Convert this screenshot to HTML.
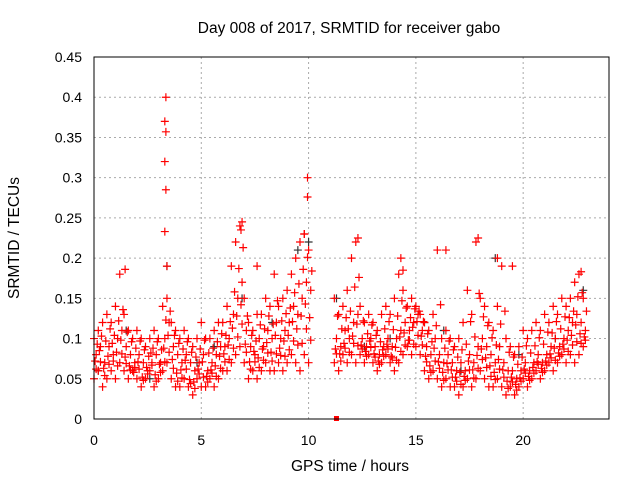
<!DOCTYPE html>
<html><head><meta charset="utf-8"><style>
body{margin:0;background:#fff}
svg{display:block;font-family:"Liberation Sans",sans-serif}
</style></head><body>
<svg id="c" width="640" height="480">
<text x="349" y="33" text-anchor="middle" font-size="15.5">Day 008 of 2017, SRMTID for receiver gabo</text>
<text x="350" y="471" text-anchor="middle" font-size="15.5">GPS time / hours</text>
<text transform="translate(19,238) rotate(-90)" text-anchor="middle" font-size="15.5">SRMTID / TECUs</text>
<g id="grid"></g><g id="marks"></g>
<rect x="94" y="57" width="515" height="362" fill="none" stroke="#000"/>
<g id="ticks"></g>
</svg>
<script>
const xTicks=[0,5,10,15,20];
const yTicks=[0,0.05,0.1,0.15,0.2,0.25,0.3,0.35,0.4,0.45];
const yTickLabels=["0","0.05","0.1","0.15","0.2","0.25","0.3","0.35","0.4","0.45"];
const times=[0,0.2,0.4,0.6,0.8,1,1.2,1.4,1.6,1.8,2,2.2,2.4,2.6,2.8,3,3.2,3.4,3.6,3.8,4,4.2,4.4,4.6,4.8,5,5.2,5.4,5.6,5.8,6,6.2,6.4,6.6,6.8,7,7.2,7.4,7.6,7.8,8,8.2,8.4,8.6,8.8,9,9.2,9.4,9.6,9.8,10,
11.2,11.4,11.6,11.8,12,12.2,12.4,12.6,12.8,13,13.2,13.4,13.6,13.8,14,14.2,14.4,14.6,14.8,15,15.2,15.4,15.6,15.8,16,16.2,16.4,16.6,16.8,17,17.2,17.4,17.6,17.8,18,18.2,18.4,18.6,18.8,19,19.2,19.4,19.6,19.8,20,20.2,20.4,20.6,20.8,21,21.2,21.4,21.6,21.8,22,22.2,22.4,22.6,22.8];
const lowVals=[0.05,0.06,0.04,0.05,0.06,0.05,0.07,0.06,0.05,0.06,0.05,0.04,0.05,0.06,0.04,0.05,0.06,0.07,0.05,0.04,0.04,0.05,0.04,0.03,0.05,0.04,0.04,0.05,0.04,0.05,0.06,0.06,0.07,0.08,0.09,0.07,0.05,0.06,0.05,0.06,0.07,0.06,0.06,0.07,0.06,0.07,0.08,0.07,0.06,0.08,0.07,
0.07,0.06,0.08,0.07,0.08,0.07,0.08,0.07,0.08,0.07,0.06,0.07,0.08,0.07,0.06,0.07,0.08,0.09,0.08,0.09,0.08,0.06,0.05,0.06,0.05,0.04,0.05,0.04,0.04,0.03,0.04,0.05,0.04,0.05,0.06,0.05,0.04,0.04,0.05,0.04,0.03,0.04,0.03,0.04,0.05,0.04,0.05,0.06,0.05,0.06,0.07,0.06,0.07,0.08,0.07,0.08,0.07,0.08,0.09];
const midVals=[0.08,0.09,0.07,0.09,0.08,0.10,0.11,0.09,0.08,0.07,0.08,0.07,0.06,0.07,0.08,0.07,0.10,0.12,0.09,0.08,0.07,0.08,0.07,0.06,0.07,0.08,0.06,0.07,0.08,0.09,0.09,0.10,0.13,0.15,0.17,0.11,0.09,0.08,0.10,0.09,0.11,0.10,0.12,0.10,0.11,0.12,0.14,0.13,0.15,0.17,0.16,
0.10,0.09,0.11,0.10,0.12,0.13,0.10,0.09,0.10,0.09,0.08,0.09,0.10,0.09,0.10,0.11,0.12,0.11,0.12,0.13,0.11,0.09,0.08,0.10,0.08,0.07,0.08,0.07,0.06,0.07,0.06,0.08,0.07,0.09,0.10,0.09,0.08,0.07,0.09,0.07,0.06,0.06,0.05,0.06,0.07,0.06,0.07,0.08,0.07,0.08,0.09,0.10,0.09,0.10,0.11,0.12,0.13,0.12,0.11];
const highVals=[0.10,0.11,0.12,0.13,0.12,0.14,0.18,0.13,0.11,0.10,0.11,0.10,0.09,0.10,0.11,0.10,0.14,0.15,0.12,0.11,0.10,0.11,0.10,0.09,0.10,0.12,0.10,0.10,0.11,0.12,0.12,0.14,0.19,0.22,0.24,0.15,0.12,0.11,0.13,0.13,0.15,0.14,0.18,0.14,0.15,0.16,0.18,0.20,0.22,0.23,0.21,
0.15,0.13,0.14,0.16,0.20,0.22,0.14,0.12,0.13,0.12,0.11,0.13,0.14,0.13,0.15,0.18,0.16,0.14,0.15,0.14,0.13,0.12,0.11,0.13,0.21,0.10,0.11,0.10,0.09,0.10,0.12,0.16,0.13,0.22,0.15,0.14,0.12,0.11,0.14,0.19,0.10,0.09,0.08,0.09,0.11,0.10,0.11,0.12,0.11,0.13,0.12,0.14,0.13,0.15,0.14,0.15,0.17,0.18,0.15];
const extraA=[0.072,0.085,0.063,0.078,0.094,0.083,0.098,0.077,0.066,0.058,0.071,0.052,0.064,0.082,0.055,0.068,0.088,0.104,0.074,0.057,0.061,0.073,0.049,0.046,0.062,0.071,0.053,0.061,0.066,0.078,0.081,0.092,0.113,0.128,0.142,0.093,0.071,0.084,0.076,0.087,0.095,0.083,0.104,0.088,0.097,0.104,0.121,0.112,0.128,0.143,0.126,
0.087,0.081,0.094,0.112,0.103,0.118,0.092,0.084,0.097,0.081,0.072,0.086,0.093,0.078,0.089,0.102,0.107,0.098,0.114,0.121,0.103,0.078,0.066,0.088,0.071,0.058,0.069,0.061,0.052,0.058,0.053,0.072,0.061,0.079,0.087,0.076,0.066,0.058,0.074,0.061,0.047,0.052,0.043,0.051,0.062,0.053,0.064,0.071,0.063,0.072,0.081,0.088,0.082,0.093,0.098,0.104,0.117,0.106,0.102];
const extraB=[0.093,0.103,0.097,0.112,0.104,0.122,0.136,0.108,0.096,0.088,0.097,0.086,0.078,0.088,0.096,0.086,0.123,0.134,0.104,0.094,0.087,0.096,0.083,0.077,0.087,0.098,0.082,0.088,0.096,0.106,0.104,0.121,0.158,0.187,0.213,0.128,0.104,0.097,0.117,0.112,0.128,0.118,0.147,0.122,0.131,0.138,0.157,0.168,0.186,0.201,0.184,
0.128,0.112,0.126,0.134,0.164,0.176,0.122,0.106,0.117,0.104,0.096,0.112,0.121,0.111,0.128,0.147,0.138,0.126,0.137,0.134,0.121,0.106,0.096,0.116,0.142,0.088,0.097,0.086,0.077,0.086,0.093,0.121,0.102,0.156,0.127,0.116,0.101,0.092,0.118,0.134,0.083,0.077,0.068,0.077,0.091,0.082,0.091,0.101,0.093,0.108,0.107,0.121,0.112,0.127,0.126,0.134,0.152,0.157,0.134];
const extraC=[0.062,0.071,0.054,0.068,0.072,0.066,0.081,0.069,0.061,0.064,0.062,0.048,0.056,0.067,0.047,0.058,0.071,0.083,0.063,0.047,0.051,0.062,0.044,0.038,0.056,0.052,0.046,0.057,0.053,0.063,0.071,0.074,0.088,0.102,0.118,0.083,0.062,0.071,0.064,0.073,0.082,0.072,0.081,0.079,0.078,0.086,0.097,0.092,0.094,0.112,0.098,
0.081,0.072,0.088,0.083,0.094,0.091,0.087,0.078,0.089,0.077,0.068,0.078,0.087,0.076,0.073,0.084,0.092,0.098,0.093,0.104,0.092,0.071,0.058,0.072,0.063,0.048,0.061,0.052,0.047,0.043,0.048,0.061,0.051,0.063,0.074,0.064,0.053,0.049,0.062,0.052,0.038,0.046,0.036,0.047,0.057,0.048,0.057,0.068,0.058,0.067,0.076,0.073,0.078,0.087,0.084,0.092,0.096,0.094,0.098];
const outlierTimes=[3.35,3.3,3.35,3.3,3.35,3.3,3.4,6.9,6.85,9.95,9.95,9.8,12.3,14.3,14.4,16.4,17.9,18.8,19.5,22.7,1.45,7.6];
const outlierVals=[0.40,0.37,0.357,0.32,0.285,0.233,0.19,0.245,0.235,0.30,0.276,0.23,0.225,0.2,0.185,0.21,0.225,0.2,0.19,0.183,0.186,0.19];
const blackTimes=[0.2,1.5,3.4,4.8,6.9,8.3,9.5,11.3,12.6,13.8,15.4,17.1,18.7,19.8,21.5,22.8,2.6,5.6,10.0,16.3];
const blackVals=[0.06,0.11,0.19,0.07,0.15,0.12,0.21,0.15,0.09,0.10,0.12,0.06,0.2,0.08,0.10,0.16,0.05,0.09,0.22,0.11];
const NS='http://www.w3.org/2000/svg';
const X=v=>94+v*(515/24), Y=v=>419-v*(362/0.45);
const grid=document.getElementById('grid'),ticks=document.getElementById('ticks'),marks=document.getElementById('marks');
function mk(t,a,p){const e=document.createElementNS(NS,t);for(const k in a)e.setAttribute(k,a[k]);p.appendChild(e);return e;}
xTicks.forEach(t=>{
  if(t>0){const g=mk('line',{x1:X(t),x2:X(t),y1:57,y2:419,stroke:'#aaa','stroke-dasharray':'2,3'},grid);
  
  }
  const l=mk('text',{x:X(t),y:445,'text-anchor':'middle','font-size':14},ticks);l.textContent=t;
  
  
});
yTicks.forEach((t,i)=>{
  if(i>0){const g=mk('line',{x1:94,x2:609,y1:Y(t),y2:Y(t),stroke:'#aaa','stroke-dasharray':'2,3'},grid);
  
  }
  const l=mk('text',{x:82,y:Y(t)+5,'text-anchor':'end','font-size':14},ticks);l.textContent=yTickLabels[i];
  
  
});
function cross(t,v,col){
  const x=X(t),y=Y(v);
  const p=mk('path',{d:`M${x-4},${y}h8M${x},${y-4}v8`,stroke:col,'stroke-width':1.2,fill:'none'},marks);
  
  
}
blackTimes.forEach((t,i)=>cross(t,blackVals[i],'#333'));
times.forEach((t,i)=>{
  cross(t,lowVals[i],'#f00');cross(t+0.1,midVals[i],'#f00');cross(t,highVals[i],'#f00');
  cross(t+0.05,extraA[i],'#f00');cross(t+0.15,extraB[i],'#f00');cross(t+0.1,extraC[i],'#f00');
});
outlierTimes.forEach((t,i)=>cross(t,outlierVals[i],'#f00'));
const sq=mk('rect',{x:X(11.3)-2.5,y:Y(0)-3,width:5,height:5,fill:'#f00'},marks);


</script>
</body></html>
